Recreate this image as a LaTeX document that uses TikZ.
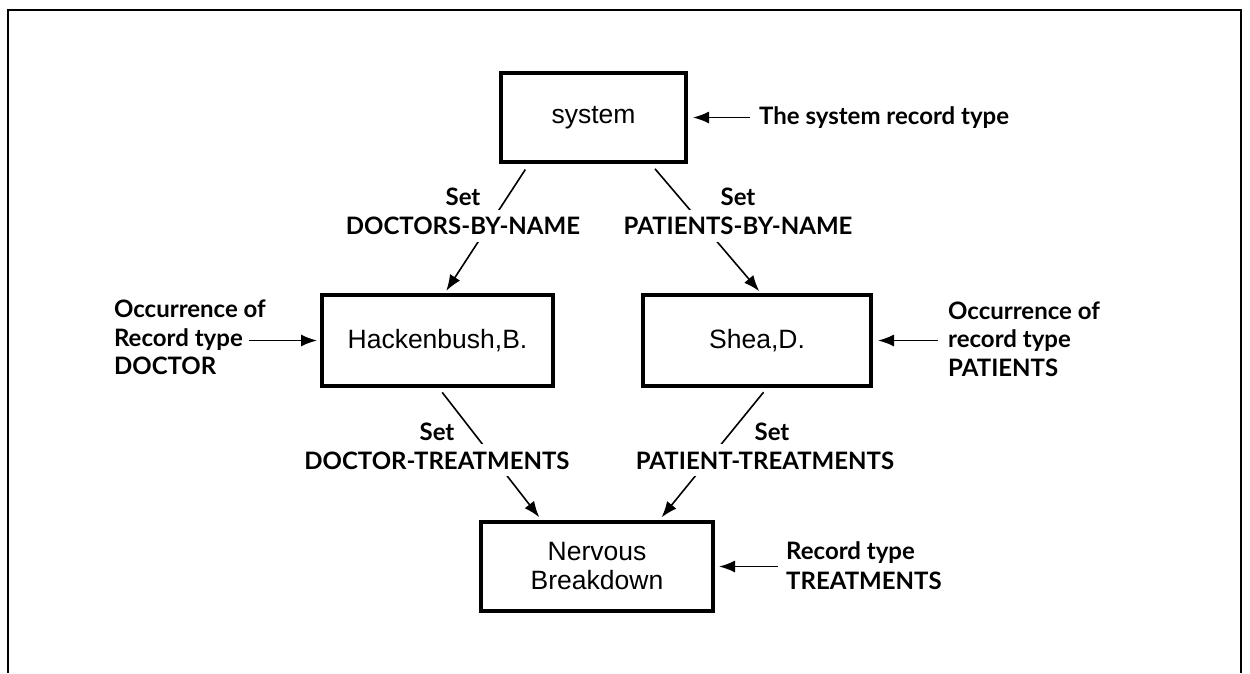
\documentclass[tikz,border=0pt]{standalone}
\usepackage{fontspec}
\setmainfont{Liberation Sans}
\newfontfamily\notefont{Lato}
\usetikzlibrary{arrows.meta,calc}

\begin{document}
\begin{tikzpicture}[x=1pt,y=-1pt,
  frame/.style={line width=2.6pt},
  record/.style={draw, line width=3.2pt, outer sep=0pt, inner sep=0pt,
    align=center, font=\fontsize{26.5}{29}\selectfont},
  note/.style={inner sep=0pt, font=\notefont\bfseries\fontsize{24}{28}\selectfont},
  gap/.style={fill=white, text height=25pt, text depth=7pt, inner xsep=3pt, inner ysep=0pt},
  link/.style={line width=1.6pt, -{Latex[length=16pt,width=12pt]}}]

\useasboundingbox (0,0) rectangle (1250,673);

% open frame round the schema
\draw[frame] (8,673) -- (8,10) -- (1241,10) -- (1241,673);

% record occurrences
\node[record, minimum width=185pt, minimum height=89pt] (system) at (593.5,117.5) {system};
\node[record, minimum width=231pt, minimum height=91pt] (hack) at (437.5,340.5) {Hackenbush,B.};
\node[record, minimum width=228pt, minimum height=91pt] (shea) at (757,340.5) {Shea,D.};
\node[record, minimum width=232pt, minimum height=89pt] (nerv) at (597,566.5) {Nervous\\Breakdown};

% set connectors (owner to member)
\draw[link, shorten <=9pt, shorten >=5pt]
  ($(system.south west)!0.158!(system.south east)$) -- ($(hack.north west)!0.526!(hack.north east)$);
\draw[link, shorten <=9pt, shorten >=5pt]
  ($(system.south west)!0.801!(system.south east)$) -- ($(shea.north west)!0.524!(shea.north east)$);
\draw[link, shorten <=8pt, shorten >=6pt]
  ($(hack.south west)!0.499!(hack.south east)$) -- ($(nerv.north west)!0.267!(nerv.north east)$);
\draw[link, shorten <=8pt, shorten >=6pt]
  ($(shea.south west)!0.551!(shea.south east)$) -- ($(nerv.north west)!0.762!(nerv.north east)$);

% set names
\node[note, anchor=base] (setA) at (463,205) {Set};
\node[note, gap, anchor=base] (setAname) at (463,234.5) {DOCTORS-BY-NAME};
\node[note, anchor=base] (setB) at (738,205) {Set};
\node[note, gap, anchor=base] (setBname) at (738,234.5) {PATIENTS-BY-NAME};
\node[note, anchor=base] (setC) at (437,440) {Set};
\node[note, gap, anchor=base] (setCname) at (437,469) {DOCTOR-TREATMENTS};
\node[note, anchor=base] (setD) at (772,440) {Set};
\node[note, gap, anchor=base] (setDname) at (765,469) {PATIENT-TREATMENTS};

% side notes
\node[note, anchor=base west] (sysnote) at (759,124) {The system record type};
\draw[link, shorten >=7pt] (system.east -| sysnote.west) ++(-9,0) -- (system.east);

\node[note, anchor=base east] (docnote2) at (243,346) {Record type};
\node[note, anchor=base west] (docnote1) at ($(docnote2.base west)+(0,-29)$) {Occurrence of};
\node[note, anchor=base west] (docnote3) at ($(docnote2.base west)+(0,28)$) {DOCTOR};
\draw[link, shorten >=5pt] (docnote2.east |- hack.west) ++(6,0) -- (hack.west);

\node[note, anchor=base west] (patnote1) at (948,319) {Occurrence of};
\node[note, anchor=base west] (patnote2) at (948,347) {record type};
\node[note, anchor=base west] (patnote3) at (948,376) {PATIENTS};
\draw[link, shorten >=7pt] (shea.east -| patnote2.west) ++(-10,0) -- (shea.east);

\node[note, anchor=base west] (trnote1) at (786,559) {Record type};
\node[note, anchor=base west] (trnote2) at (786,589) {TREATMENTS};
\draw[link, shorten >=6pt] (nerv.east -| trnote1.west) ++(-8,0) -- (nerv.east);

\end{tikzpicture}
\end{document}
